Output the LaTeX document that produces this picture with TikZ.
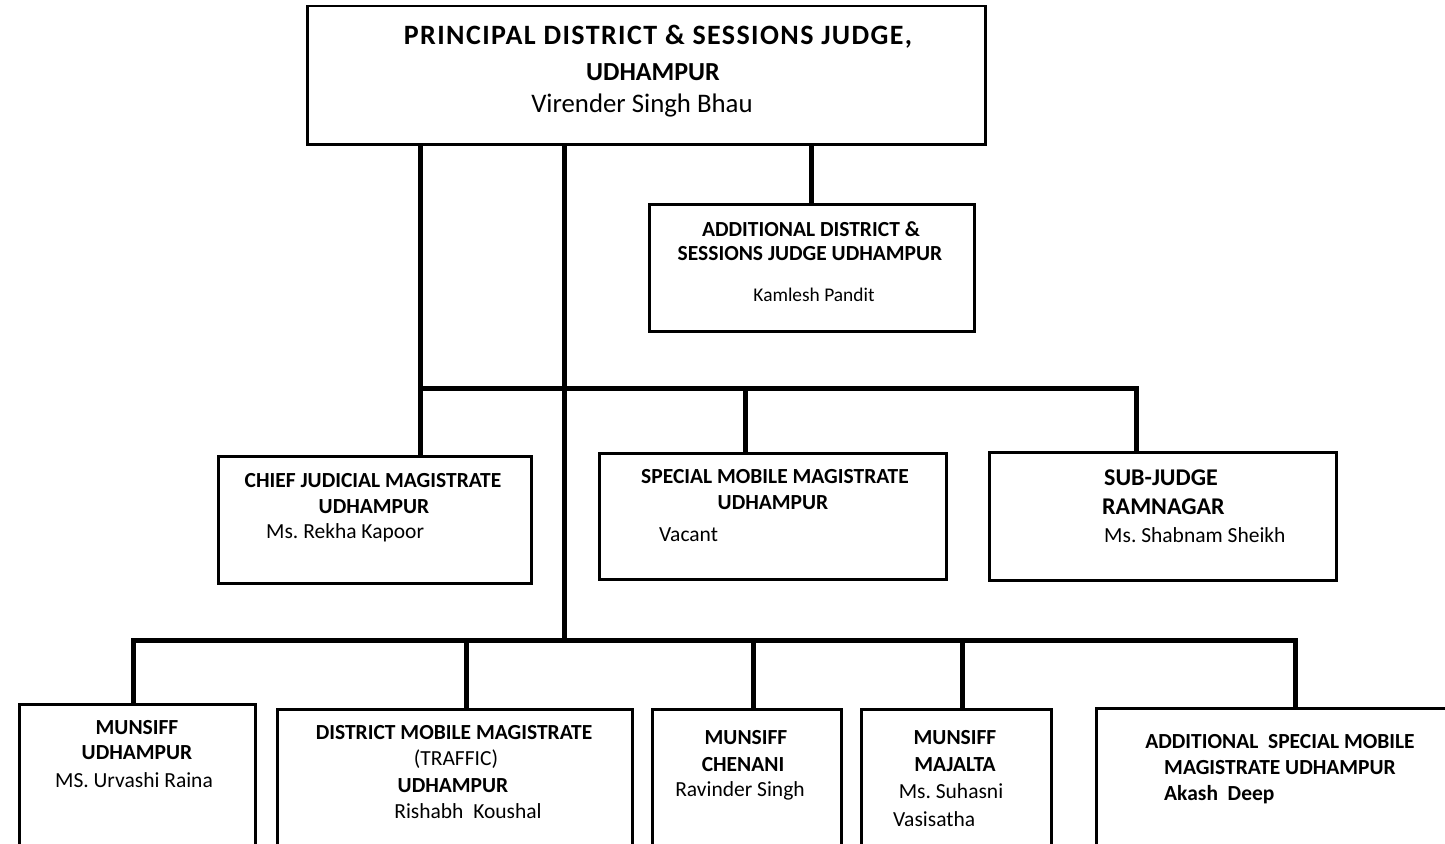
\documentclass[tikz,border=0pt]{standalone}
\usepackage{fontspec}
\setmainfont{Carlito}
\usepackage{tikz}
\frenchspacing

\tikzset{
	box/.style={draw=black, line width=2.5pt, inner sep=0pt, anchor=north west},
	link/.style={draw=black, line width=5pt},
	headtext/.style={font=\bfseries\fontsize{21.5}{24}\selectfont, inner sep=0pt},
	nametext/.style={font=\fontsize{21.5}{24}\selectfont, inner sep=0pt}
}

\begin{document}
\begin{tikzpicture}[x=1pt, y=-1pt]
	\useasboundingbox (0,0) rectangle (1445,843);
	\clip (0,0) rectangle (1445,843);
	% boxes
	\node[box, minimum width=678pt, minimum height=138pt] (pdsj) at (306,5) {};
	\node[box, minimum width=325pt, minimum height=127pt] (adj) at (648,203) {};
	\node[box, minimum width=313pt, minimum height=127pt] (cjm) at (217,455) {};
	\node[box, minimum width=347pt, minimum height=126pt] (smm) at (598,452) {};
	\node[box, minimum width=347pt, minimum height=128pt] (sj) at (988,451) {};
	\node[box, minimum width=236pt, minimum height=170pt] (mu) at (18,703) {};
	\node[box, minimum width=355pt, minimum height=170pt] (dmm) at (276,708) {};
	\node[box, minimum width=189pt, minimum height=170pt] (mc) at (651,708) {};
	\node[box, minimum width=190pt, minimum height=170pt] (mm) at (860,708) {};
	\node[box, minimum width=380pt, minimum height=170pt] (asmm) at (1095,707) {};
	% texts
	\node[headtext, font=\bfseries\fontsize{28}{30}\selectfont\addfontfeature{LetterSpace=5}] (pdsjA) at (658,37) {PRINCIPAL DISTRICT \& SESSIONS JUDGE,};
	\node[headtext, font=\bfseries\fontsize{26}{28}\selectfont] (pdsjB) at (653,72) {UDHAMPUR};
	\node[nametext, font=\fontsize{26.8}{28}\selectfont] (pdsjC) at (642,105) {Virender Singh Bhau};
	\node[headtext] (adjA) at (811,229) {ADDITIONAL DISTRICT \&};
	\node[headtext] (adjB) at (810,254) {SESSIONS JUDGE UDHAMPUR};
	\node[nametext, font=\fontsize{19.4}{22}\selectfont] (adjC) at (814,295) {Kamlesh Pandit};
	\node[headtext] (cjmA) at (373,481) {CHIEF JUDICIAL MAGISTRATE};
	\node[headtext] (cjmB) at (374,507) {UDHAMPUR};
	\node[nametext, anchor=west] (cjmC) at (266,533) {Ms. Rekha Kapoor};
	\node[headtext] (smmA) at (775,477) {SPECIAL MOBILE MAGISTRATE};
	\node[headtext] (smmB) at (773,503) {UDHAMPUR};
	\node[nametext, anchor=west] (smmC) at (659,535) {Vacant};
	\node[headtext, anchor=west, font=\bfseries\fontsize{24}{26}\selectfont] (sjA) at (1104,478) {SUB-JUDGE};
	\node[headtext, anchor=west, font=\bfseries\fontsize{24}{26}\selectfont] (sjB) at (1102,507) {RAMNAGAR};
	\node[nametext, anchor=west] (sjC) at (1104,535) {Ms. Shabnam Sheikh};
	\node[headtext] (muA) at (137,728) {MUNSIFF};
	\node[headtext] (muB) at (137,753) {UDHAMPUR};
	\node[nametext] (muC) at (134,780) {MS. Urvashi Raina};
	\node[headtext] (dmmA) at (454,733) {DISTRICT MOBILE MAGISTRATE};
	\node[nametext] (dmmB) at (456,759) {(TRAFFIC)};
	\node[headtext] (dmmC) at (453,786) {UDHAMPUR};
	\node[nametext] (dmmD) at (468,811) {Rishabh\ \ Koushal};
	\node[headtext] (mcA) at (746,738) {MUNSIFF};
	\node[headtext] (mcB) at (743,765) {CHENANI};
	\node[nametext] (mcC) at (740,791) {Ravinder Singh};
	\node[headtext] (mmA) at (955,738) {MUNSIFF};
	\node[headtext] (mmB) at (955,765) {MAJALTA};
	\node[nametext] (mmC) at (951,791) {Ms. Suhasni};
	\node[nametext, anchor=west] (mmD) at (893,819) {Vasisatha};
	\node[headtext] (asmmA) at (1280,742) {ADDITIONAL\ \ SPECIAL MOBILE};
	\node[headtext] (asmmB) at (1280,768) {MAGISTRATE UDHAMPUR};
	\node[headtext, anchor=west] (asmmC) at (1164,795) {Akash\ \ Deep};
	% bus points
	\coordinate (busL) at (420,388);
	\coordinate (busM) at (564,388);
	\coordinate (busS) at (745,388);
	\coordinate (busR) at (1136,388);
	\coordinate (lowL) at (133,640);
	\coordinate (lowM) at (564,640);
	\coordinate (lowR) at (1295,640);
	% connectors
	\draw[link] (pdsj.south -| adj.north) -- (adj.north);
	\draw[link] (pdsj.south -| busL) -- (busL) -- (cjm.north -| busL);
	\draw[link] (busL) -- (busR) -- (sj.north -| busR);
	\draw[link] (busS) -- (smm.north -| busS);
	\draw[link] (pdsj.south -| busM) -- (lowM);
	\draw[link] (mu.north -| lowL) -- (lowL) -- (lowR) -- (asmm.north -| lowR);
	\draw[link] (lowL -| 466,0) -- (dmm.north -| 466,0);
	\draw[link] (lowL -| 753,0) -- (mc.north -| 753,0);
	\draw[link] (lowL -| 962,0) -- (mm.north -| 962,0);
\end{tikzpicture}
\end{document}
